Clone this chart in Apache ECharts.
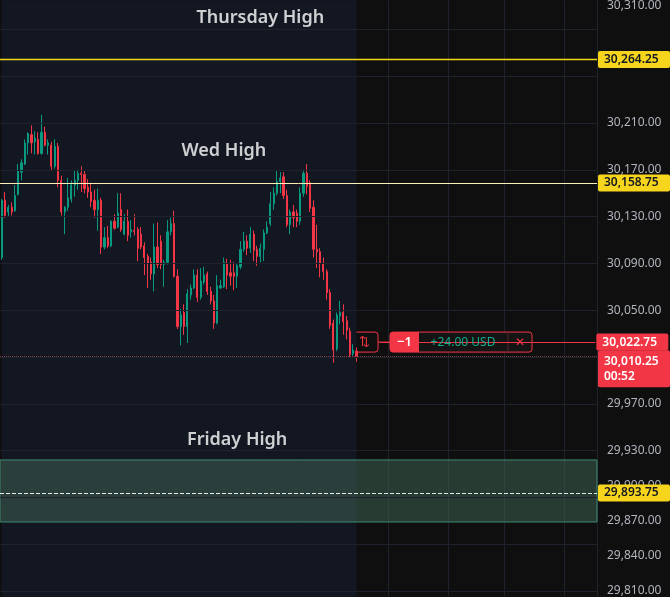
<!DOCTYPE html>
<html><head><meta charset="utf-8">
<script src="https://cdn.jsdelivr.net/npm/echarts@6/dist/echarts.min.js"></script>
<style>html,body{margin:0;padding:0;background:#0f0f0f}#c{width:670px;height:597px}</style>
</head><body><div id="c"></div>
<script>
// candles: [open, close, low, high]
const candles = [
[30095,30144,30093,30145],[30144,30131,30129,30151],[30134,30138,30130,30140],[30138,30134,30131,30142],
[30135,30148,30134,30157],[30149,30169,30148,30175],[30168,30176,30161,30179],[30175,30193,30174,30196],
[30193,30201,30183,30202],[30200,30193,30184,30208],[30194,30197,30183,30203],[30196,30184,30183,30202],
[30184,30202,30183,30217],[30202,30191,30190,30207],[30191,30193,30183,30196],[30191,30173,30170,30194],
[30173,30190,30171,30196],[30190,30161,30155,30193],[30161,30134,30131,30165],[30134,30138,30115,30139],
[30138,30146,30135,30163],[30145,30157,30142,30161],[30157,30161,30147,30169],[30161,30167,30153,30170],
[30167,30166,30151,30173],[30166,30154,30150,30169],[30155,30151,30146,30162],[30151,30143,30138,30159],
[30144,30136,30129,30153],[30136,30144,30118,30154],[30144,30104,30098,30146],[30104,30112,30102,30121],
[30112,30105,30103,30122],[30105,30126,30104,30127],[30126,30120,30119,30132],[30121,30133,30120,30150],
[30136,30119,30117,30150],[30115,30126,30114,30132],[30126,30114,30109,30136],[30117,30119,30112,30127],
[30118,30117,30114,30132],[30119,30103,30092,30121],[30115,30104,30102,30121],[30105,30095,30080,30108],
[30096,30090,30069,30098],[30091,30081,30076,30095],[30081,30104,30066,30124],[30104,30089,30086,30125],
[30109,30089,30085,30114],[30089,30091,30070,30093],[30091,30117,30089,30127],[30117,30124,30114,30129],
[30124,30079,30078,30135],[30079,30036,30034,30085],[30036,30046,30020,30051],[30048,30036,30029,30055],
[30036,30064,30022,30068],[30063,30069,30059,30072],[30069,30080,30068,30085],[30080,30061,30057,30085],
[30061,30075,30059,30086],[30074,30080,30072,30087],[30081,30066,30063,30083],[30066,30058,30055,30070],
[30058,30039,30034,30063],[30039,30071,30038,30080],[30069,30071,30068,30076],[30070,30091,30069,30095],
[30090,30080,30068,30094],[30082,30079,30071,30093],[30082,30079,30067,30091],[30079,30088,30069,30090],
[30087,30102,30085,30109],[30102,30109,30100,30117],[30109,30103,30097,30114],[30103,30115,30099,30121],
[30115,30101,30092,30118],[30102,30096,30088,30105],[30096,30103,30091,30107],[30102,30116,30092,30119],
[30116,30121,30115,30126],[30124,30141,30122,30151],[30141,30150,30136,30155],[30150,30160,30148,30169],
[30160,30163,30150,30168],[30164,30148,30145,30168],[30148,30123,30121,30153],[30123,30134,30115,30136],
[30134,30129,30121,30140],[30133,30126,30121,30136],[30126,30150,30123,30155],[30150,30167,30147,30170],
[30167,30156,30149,30175],[30159,30137,30134,30161],[30138,30102,30095,30144],[30102,30100,30086,30123],
[30100,30090,30078,30103],[30090,30083,30076,30095],[30083,30065,30059,30085],[30065,30037,30034,30068],
[30039,30016,30005,30042],[30017,30046,30015,30048],[30045,30048,30038,30058],[30048,30040,30029,30055],
[30041,30033,30025,30045],[30032,30012,30010,30035],[30013,30016,30010,30021],[30015,30010.25,30006,30018]
];
const slotCount = 180;
const categories = Array.from({length: slotCount}, (_, i) => String(i));
const tickLabels = [30310,30210,30170,30130,30090,30050,29970,29930,29900,29870,29840,29810];
const gridLevels = [30290,30250,30210,30170,30130,30090,30050,30010,29970,29930,29890,29850,29810];
const vGridIdx = [12,30,47,65,82,100,117,135,152,170];
const thursdayHigh = 30264.25, wedHigh = 30158.75, fridayHigh = 29893.75;
const fridayZone = [29869, 29922];
const positionPrice = 30022.75, lastPrice = 30010.25, countdown = '00:52';
const pnlText = '+24.00 USD', qtyText = '−1';
const annotationTexts = ['Thursday High', 'Wed High', 'Friday High'];
const annotationSlots = ['78', '67', '71'];
const annotationPrices = [30300, 30186, 29939];

const fmt = v => v.toLocaleString('en-US', {minimumFractionDigits: 2, maximumFractionDigits: 2});
const UP = '#089981', DN = '#f23645', YEL = '#f7d51d';
const font = '"Noto Sans", sans-serif';

const chart = echarts.init(document.getElementById('c'));
const priceLabel = (bg, fg, text) => ({show: true, position: 'end', distance: 1, formatter: text,
  backgroundColor: bg, color: fg, padding: [3, 6, 2, 6], fontSize: 12, fontFamily: font, fontWeight: 600, borderRadius: 2, width: 60, align: 'left'});
const lineSeries = (data, color, type, width) => ({type: 'line', data: [], silent: true,
  markLine: {silent: true, symbol: 'none', animation: false, lineStyle: {color, type, width}, data}});
chart.setOption({
  backgroundColor: '#0f0f0f',
  animation: false,
  grid: {left: 0, right: 73, top: 0, bottom: 0},
  xAxis: {type: 'category', data: categories, boundaryGap: true,
    axisLine: {show: false}, axisTick: {show: false}, axisLabel: {show: false},
    splitLine: {show: true, interval: (i) => vGridIdx.includes(i), lineStyle: {color: '#1e222d'}}},
  yAxis: {type: 'value', position: 'right', min: 29805, max: 30315, interval: 5, scale: true,
    axisLine: {show: false}, axisTick: {show: false}, splitLine: {show: false},
    axisLabel: {color: '#b2b5be', fontSize: 12, fontFamily: font, margin: 10,
      formatter: v => tickLabels.includes(v) ? fmt(v) : ''}},
  series: [
    {type: 'line', data: [], silent: true, markArea: {silent: true, data: [
      [{xAxis: '0', itemStyle: {color: '#131722'}}, {xAxis: String(candles.length - 1)}]]}},
    lineSeries(gridLevels.map(v => ({yAxis: v, label: {show: false}})), '#1e222d', 'solid', 1),
    {type: 'line', data: [], silent: true, markArea: {silent: true, data: [
      [{yAxis: fridayZone[0], itemStyle: {color: 'rgba(62,96,80,0.55)', borderColor: '#3f8a74', borderWidth: 1}}, {yAxis: fridayZone[1]}]]}},
    {type: 'candlestick', data: candles, barMaxWidth: 2.6,
      itemStyle: {color: UP, color0: DN, borderColor: UP, borderColor0: DN, borderWidth: 1}},
    lineSeries([{yAxis: thursdayHigh, label: priceLabel(YEL, '#131722', fmt(thursdayHigh))}], '#f2d718', 'solid', 1.3),
    lineSeries([{yAxis: wedHigh, label: priceLabel(YEL, '#131722', fmt(wedHigh))}], '#fbf1b8', 'solid', 1),
    lineSeries([{yAxis: fridayHigh, label: priceLabel(YEL, '#131722', fmt(fridayHigh))}], '#e8e8e8', 'dashed', 1),
    lineSeries([{yAxis: lastPrice, label: {...priceLabel(DN, '#fff', fmt(lastPrice) + '\n' + countdown), lineHeight: 15, padding: [4, 6, 3, 6], offset: [0, 12]}}], '#7a3a44', 'dotted', 1),
    lineSeries([[{coord: ['114', positionPrice], label: priceLabel(DN, '#fff', fmt(positionPrice))}, {coord: ['179', positionPrice]}]], DN, 'solid', 1),
    {type: 'scatter', symbolSize: 0, silent: true, z: 20,
      data: annotationTexts.map((t, i) => ({value: [annotationSlots[i], annotationPrices[i]], name: t})),
      label: {show: true, position: 'inside', formatter: p => p.name, color: '#ffffff', fontSize: 18, fontWeight: 600, fontFamily: font}}
  ]
});
const y = chart.convertToPixel({yAxisIndex: 0}, positionPrice);
const txt = (id, text, x, yy, fill, size, weight) => ({type: 'text', id, z: 100, x, y: yy,
  style: {text, fill, fontSize: size, fontWeight: weight, fontFamily: 'Noto Sans', align: 'center', verticalAlign: 'middle'}});
chart.setOption({graphic: [
  {type: 'rect', id: 'r1', shape: {x: 351, y: y - 10, width: 27, height: 20, r: 3}, style: {fill: '#0f0f0f', stroke: DN, lineWidth: 1}},
  txt('t1', '⇅', 364.5, y, DN, 13, 400),
  {type: 'line', id: 'l1', shape: {x1: 378, y1: y, x2: 390, y2: y}, style: {stroke: DN, lineWidth: 1}},
  {type: 'rect', id: 'r2', shape: {x: 390, y: y - 10, width: 142, height: 20, r: 3}, style: {fill: '#141414', stroke: DN, lineWidth: 1}},
  {type: 'rect', id: 'r3', shape: {x: 390, y: y - 10, width: 29, height: 20, r: [3, 0, 0, 3]}, style: {fill: DN}},
  txt('t2', qtyText, 404.5, y, '#ffffff', 13, 600),
  txt('t3', pnlText, 463, y, '#0fb08f', 12, 400),
  {type: 'line', id: 'l2', shape: {x1: 508, y1: y - 10, x2: 508, y2: y + 10}, style: {stroke: '#5a2028', lineWidth: 1}},
  txt('t4', '✕', 520, y, DN, 12, 400)
]});
</script></body></html>
